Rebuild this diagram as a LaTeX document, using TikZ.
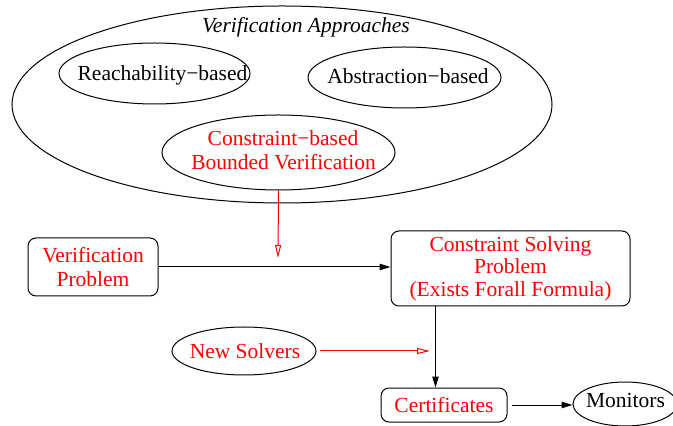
\documentclass[tikz,border=0pt]{standalone}
\usepackage{fontspec}
\setmainfont{Liberation Serif}
\usetikzlibrary{shapes.geometric,arrows.meta}
\begin{document}
\begin{tikzpicture}[x=0.5pt,y=-0.5pt,
  every node/.style={font=\fontsize{10.75}{12}\selectfont, inner sep=0pt},
  oval/.style={draw, ellipse, line width=0.5pt},
  rbox/.style={draw, rectangle, rounded corners=4pt, line width=0.5pt, align=center, text=red},
  blk/.style={line width=0.5pt, -{Triangle[length=5.5pt,width=3.2pt]}},
  redarr/.style={red, line width=0.5pt, -{Triangle[open,length=6.5pt,width=3pt]}},
  lbl/.style={anchor=base}
]
\useasboundingbox (0,0) rectangle (673,426);
% ellipses
\node[oval, minimum width=270pt, minimum height=98.5pt] (va) at (282,104.5) {};
\node[lbl, font=\fontsize{10.75}{12}\selectfont\itshape] (vaT) at (306,32.5) {Verification Approaches};
\node[oval, minimum width=95.5pt, minimum height=30.5pt] (reach) at (154.5,73.5) {};
\node[lbl] (reachT) at (162.5,81) {Reachability−based};
\node[oval, minimum width=96.5pt, minimum height=30.5pt] (abs) at (404.5,77.5) {};
\node[lbl] (absT) at (408,83.5) {Abstraction−based};
\node[oval, minimum width=116.5pt, minimum height=37.5pt] (cb) at (278.5,152.5) {};
\node[lbl, text=red] (cbT1) at (283,146) {Constraint−based};
\node[lbl, text=red] (cbT2) at (283.5,170) {Bounded Verification};
\node[oval, minimum width=72pt, minimum height=24pt] (ns) at (244,351) {};
\node[lbl, text=red] (nsT) at (245,358) {New Solvers};
\node[oval, minimum width=52pt, minimum height=22pt] (mon) at (625,404) {};
\node[lbl] (monT) at (625.5,408) {Monitors};
% boxes
\node[rbox, minimum width=65pt, minimum height=29pt] (vp) at (93,267) {Verification\\Problem};
\node[rbox, minimum width=119.5pt, minimum height=37.5pt, font=\fontsize{10.75}{11.25}\selectfont] (csp) at (510.5,268.5) {Constraint Solving\\Problem\hspace*{8pt}\\(Exists Forall Formula)};
\node[rbox, minimum width=63pt, minimum height=17pt] (cert) at (444,405) {Certificates};
% connectors
\coordinate (rtip) at (278,258);
\draw[redarr] (cb.south) -- (rtip);
\draw[blk] (vp.east) -- (vp.east -| csp.west);
\path (csp.south west) ++(45,0) coordinate (d);
\draw[blk] (d) -- (d |- cert.north);
\coordinate (nstip) at (430,351);
\draw[redarr] ([xshift=1.5pt]ns.east) -- (nstip);
\draw[blk, shorten <=2pt] (cert.east) -- (cert.east -| mon.west);
\end{tikzpicture}
\end{document}
